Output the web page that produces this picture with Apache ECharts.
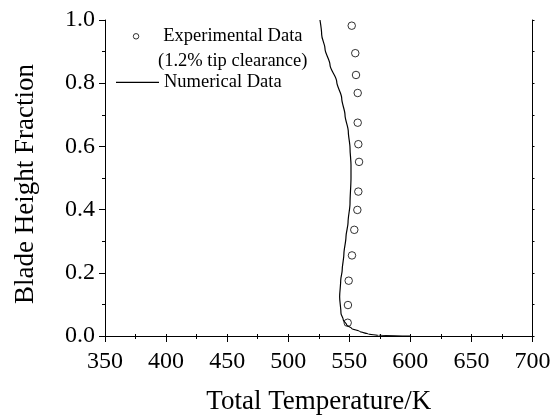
<!DOCTYPE html>
<html>
<head>
<meta charset="utf-8">
<script src="https://cdn.jsdelivr.net/npm/echarts@6/dist/echarts.min.js"></script>
<style>
html,body{margin:0;padding:0;background:#fff;}
#chart{width:558px;height:416px;}
</style>
</head>
<body>
<div id="chart"></div>
<script>
// Experimental data (1.2% tip clearance): total temperature [K] and blade height fraction
var expTemperature = [552.0, 554.9, 555.5, 556.9, 556.9, 557.4, 558.0, 557.4, 556.6, 554.1, 552.2, 549.5, 548.9, 548.7];
var expHeight      = [0.982, 0.895, 0.826, 0.769, 0.675, 0.607, 0.551, 0.457, 0.399, 0.336, 0.255, 0.175, 0.098, 0.042];

// Numerical data
var numTemperature = [526.0, 527.4, 530.1, 534.2, 539.7, 543.8, 546.5, 549.2, 550.6, 551.4, 551.4, 550.6, 549.0, 547.3, 545.6, 544.2, 543.0, 542.1, 543.2, 545.1, 547.9, 552.0, 558.8, 565.6, 573.8, 600.0];
var numHeight      = [1.000, 0.953, 0.910, 0.858, 0.805, 0.752, 0.699, 0.647, 0.594, 0.541, 0.500, 0.420, 0.360, 0.314, 0.260, 0.209, 0.177, 0.124, 0.072, 0.051, 0.035, 0.024, 0.014, 0.006, 0.002, 0.000];

// Axis ticks
var xTicks = [350, 400, 450, 500, 550, 600, 650, 700];
var yTicks = [0.0, 0.2, 0.4, 0.6, 0.8, 1.0];

var FONT = "'Liberation Serif', 'Times New Roman', serif";

function pairs(xs, ys) {
  var out = [];
  for (var i = 0; i < xs.length; i++) out.push([xs[i], ys[i]]);
  return out;
}

var chart = echarts.init(document.getElementById('chart'), null, {renderer: 'canvas'});

var axisLine = {show: true, lineStyle: {color: '#000', width: 1}};

chart.setOption({
  animation: false,
  backgroundColor: '#fff',
  textStyle: {fontFamily: FONT, color: '#000'},
  grid: {left: 105, top: 20, right: 25.5, bottom: 80, containLabel: false, outerBoundsMode: 'none'},
  legend: [
    {
      data: [{name: 'Experimental Data', icon: 'circle'}],
      left: 132.8, top: 26.8,
      padding: 0,
      itemWidth: 5.5, itemHeight: 5.5,
      selectedMode: false,
      itemStyle: {color: 'rgba(255,255,255,0)', borderColor: '#000', borderWidth: 1},
      textStyle: {fontFamily: FONT, fontSize: 18.5, color: '#000', padding: [0, 0, 0, 19.5]}
    },
    {
      data: [{name: 'Numerical Data', icon: 'rect'}],
      left: 116, top: 72.8,
      padding: 0,
      itemWidth: 43, itemHeight: 1.2,
      selectedMode: false,
      itemStyle: {color: '#000', borderWidth: 0},
      lineStyle: {width: 0},
      textStyle: {fontFamily: FONT, fontSize: 18.5, color: '#000'}
    }
  ],
  graphic: [
    {
      type: 'text',
      left: 158, top: 52,
      style: {text: '(1.2% tip clearance)', font: '18.5px ' + FONT, fill: '#000'}
    }
  ],
  xAxis: [
    {
      type: 'value', position: 'bottom',
      min: xTicks[0], max: xTicks[xTicks.length - 1], interval: 50,
      axisLine: axisLine,
      axisTick: {show: true, inside: false, length: 6, lineStyle: {color: '#000'}},
      minorTick: {show: true, splitNumber: 2, length: 3, lineStyle: {color: '#000'}},
      splitLine: {show: false},
      axisLabel: {fontFamily: FONT, fontSize: 24, color: '#000', margin: 14, showMinLabel: true, showMaxLabel: true},
      name: 'Total Temperature/K',
      nameLocation: 'middle',
      nameGap: 52,
      nameTextStyle: {fontFamily: FONT, fontSize: 27, color: '#000'}
    },
    {
      type: 'value', position: 'top',
      min: xTicks[0], max: xTicks[xTicks.length - 1], interval: 50,
      axisLine: axisLine,
      axisTick: {show: true, inside: false, length: 2, lineStyle: {color: '#000'}},
      minorTick: {show: true, splitNumber: 2, length: 2, lineStyle: {color: '#000'}},
      splitLine: {show: false},
      axisLabel: {show: false}
    }
  ],
  yAxis: [
    {
      type: 'value', position: 'left',
      min: yTicks[0], max: yTicks[yTicks.length - 1], interval: 0.2,
      axisLine: axisLine,
      axisTick: {show: true, inside: false, length: 6, lineStyle: {color: '#000'}},
      minorTick: {show: true, splitNumber: 2, length: 3, lineStyle: {color: '#000'}},
      splitLine: {show: false},
      axisLabel: {
        fontFamily: FONT, fontSize: 24, color: '#000', margin: 10,
        formatter: function (v) { return v.toFixed(1); }
      },
      name: 'Blade Height Fraction',
      nameLocation: 'middle',
      nameGap: 66,
      nameRotate: 90,
      nameTextStyle: {fontFamily: FONT, fontSize: 27, color: '#000', padding: [0, 12, 0, 0]}
    },
    {
      type: 'value', position: 'right',
      min: yTicks[0], max: yTicks[yTicks.length - 1], interval: 0.2,
      axisLine: axisLine,
      axisTick: {show: true, inside: false, length: 2, lineStyle: {color: '#000'}},
      minorTick: {show: true, splitNumber: 2, length: 2, lineStyle: {color: '#000'}},
      splitLine: {show: false},
      axisLabel: {show: false}
    }
  ],
  series: [
    {
      name: 'Experimental Data',
      type: 'scatter',
      xAxisIndex: 0, yAxisIndex: 0,
      symbol: 'circle',
      symbolSize: 7.5,
      itemStyle: {color: 'rgba(255,255,255,0)', borderColor: '#000', borderWidth: 1},
      data: pairs(expTemperature, expHeight),
      z: 3
    },
    {
      name: 'Numerical Data',
      type: 'line',
      xAxisIndex: 0, yAxisIndex: 0,
      showSymbol: false,
      symbol: 'none',
      smooth: 0.3,
      smoothMonotone: 'y',
      lineStyle: {color: '#000', width: 1.2},
      itemStyle: {color: '#000'},
      data: pairs(numTemperature, numHeight),
      z: 2
    }
  ]
});
</script>
</body>
</html>
